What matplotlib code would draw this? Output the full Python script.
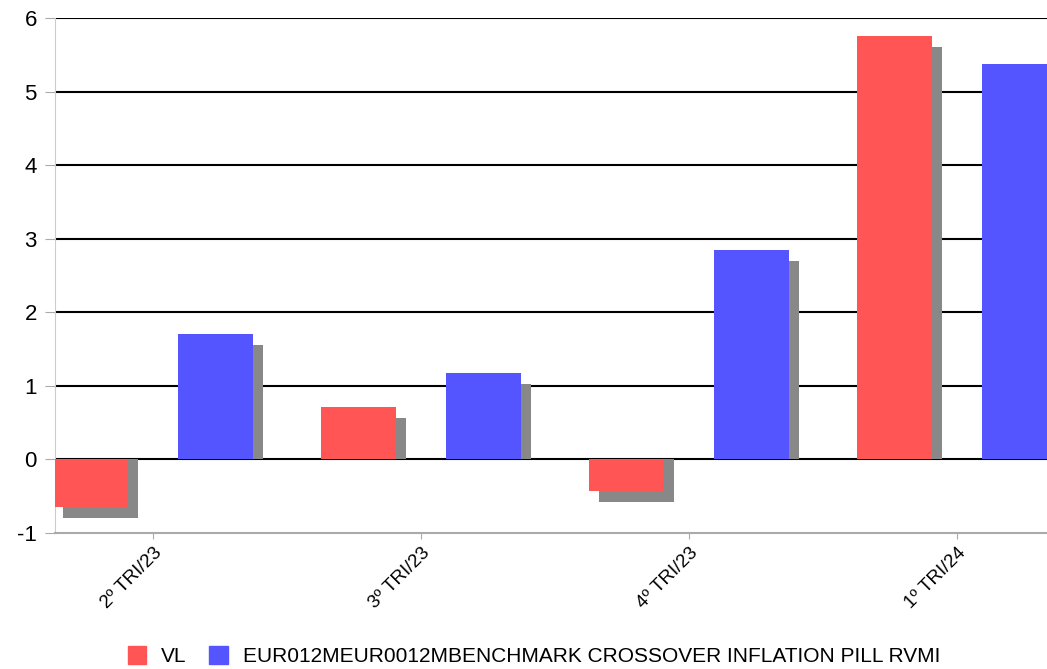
import matplotlib
matplotlib.use("Agg")
import matplotlib.pyplot as plt
import numpy as np
from matplotlib.patches import Patch

categories = ["2º TRI/23", "3º TRI/23", "4º TRI/23", "1º TRI/24"]
vl = [-0.65, 0.71, -0.43, 5.75]
bench = [1.71, 1.18, 2.85, 5.37]
series_names = ["VL", "EUR012MEUR0012MBENCHMARK CROSSOVER INFLATION PILL RVMI"]
yticks = [-1, 0, 1, 2, 3, 4, 5, 6]

plt.rcParams['font.family'] = ['Liberation Sans', 'DejaVu Sans']

red = "#FF5555"
blue = "#5555FF"
shadow = "#888888"

fig = plt.figure(figsize=(10.47, 6.69), dpi=100)
ax = fig.add_axes([0.0525, 0.2033, 0.9475, 0.7697])

x = np.arange(len(categories))
w = 0.28
off = 0.232
sdx = 0.037
sdy = 0.15

for i in range(len(categories)):
    for val, o, c in ((vl[i], -off, red), (bench[i], off, blue)):
        ax.bar(x[i] + o + sdx, val - sdy, width=w, color=shadow, zorder=2, linewidth=0)
        ax.bar(x[i] + o, val, width=w, color=c, zorder=3, linewidth=0)

for yv in yticks[1:]:
    ax.axhline(yv, color="black", linewidth=1.5, zorder=1)

ax.set_xlim(-0.366, 3.336)
ax.set_ylim(-1, 6)
ax.set_yticks(yticks)
ax.set_yticklabels([str(v) for v in yticks], fontsize=16)
ax.set_xticks(x)
ax.set_xticklabels(categories, rotation=45, ha='right', va='top',
                   rotation_mode='anchor', fontsize=13.5)
ax.tick_params(axis='y', length=7, color="#aaaaaa", pad=6)
ax.tick_params(axis='x', length=4, color="#aaaaaa", pad=4)

for s in ("top", "right"):
    ax.spines[s].set_visible(False)
ax.spines["left"].set_color("#cccccc")
ax.spines["bottom"].set_color("#aaaaaa")
ax.spines["bottom"].set_linewidth(1.5)

handles = [Patch(color=red, label=series_names[0]), Patch(color=blue, label=series_names[1])]
fig.legend(handles=handles, loc='lower center', bbox_to_anchor=(0.51, -0.024), ncol=2,
           frameon=False, fontsize=15, handlelength=0.9, handleheight=0.9,
           handletextpad=0.7, columnspacing=1.1)

fig.savefig("out.png", dpi=100)
